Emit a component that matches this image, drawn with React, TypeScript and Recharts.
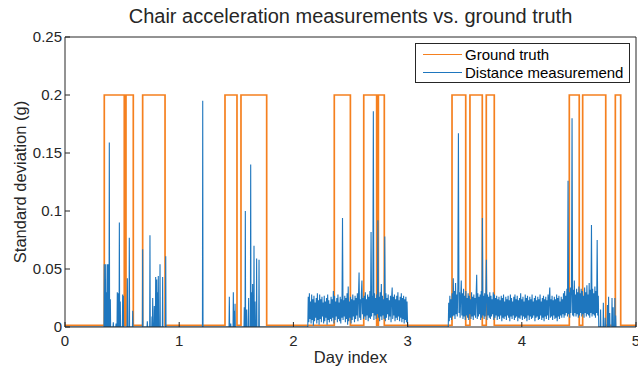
import React from 'react';
import { LineChart, Line, XAxis, YAxis, Legend } from 'recharts';

// axis ticks
const xTicks = [0, 1, 2, 3, 4, 5];
const yTicks = [0, 0.05, 0.1, 0.15, 0.2, 0.25];

// ground truth: sitting intervals (day index), level while sitting / idle
const gtOnStart = [0.344, 0.534, 0.68, 1.401, 1.541, 2.358, 2.616, 2.744, 3.389, 3.546, 3.689, 4.416, 4.533, 4.819];
const gtOnEnd = [0.519, 0.598, 0.876, 1.506, 1.766, 2.499, 2.729, 2.796, 3.509, 3.654, 3.759, 4.503, 4.735, 4.866];
const gtHigh = 0.2;
const gtLow = 0.0015;

// isolated measurement spikes (day index, value in milli-g)
const spikeDays = [
  0.344, 0.35, 0.356, 0.362, 0.371, 0.38, 0.388, 0.397, 0.423, 0.447, 0.458, 0.467, 0.476, 0.484,
  0.505, 0.511, 0.546, 0.563, 0.593, 0.68, 0.721, 0.744, 0.762, 0.768, 0.782, 0.794, 0.803, 0.81,
  0.817, 0.832, 0.855, 0.882, 1.206, 1.439, 1.451, 1.474, 1.482, 1.489, 1.57, 1.579, 1.585, 1.591,
  1.608, 1.626, 1.634, 1.643, 1.655, 1.664, 1.678, 1.699, 4.69, 4.714, 4.73, 4.75, 4.76, 4.77,
  4.79, 4.8, 4.815, 4.822,
];
const spikeMilli = [
  54, 27, 54, 30, 54, 54, 159, 24, 4, 3, 30, 29, 90, 22,
  28, 27, 42, 77, 14, 67, 5, 79, 9, 25, 18, 43, 41, 30,
  44, 54, 43, 61, 195, 26, 3, 30, 14, 20, 17, 100, 5, 15,
  25, 140, 30, 37, 70, 22, 59, 58, 15, 21, 8, 19, 26, 12,
  25, 17, 25, 10,
];

// continuous noisy stretches, sampled every 0.005 day (milli-g)
const noiseStep = 0.005;
const noiseAStart = 2.13;
const noiseA = [
  26, 4, 29, 7, 22, 3, 28, 6, 24, 1,
  27, 5, 21, 8, 25, 3, 29, 6, 23, 2,
  28, 7, 24, 4, 26, 9, 21, 3, 27, 5,
  22, 8, 25, 2, 28, 6, 23, 4, 20, 7,
  26, 5, 24, 8, 31, 3, 27, 6, 22, 9,
  25, 4, 28, 7, 21, 5, 26, 3, 24, 8,
  94, 6, 23, 9, 27, 4, 25, 7, 29, 2,
  35, 5, 22, 8, 26, 3, 24, 6, 28, 9,
  23, 4, 27, 7, 25, 10, 29, 5, 26, 47,
  8, 24, 6, 28, 40, 11, 25, 7, 27, 9,
  30, 6, 24, 10, 28, 5, 26, 8, 31, 7,
  82, 9, 27, 12, 186, 6, 29, 10, 25, 7,
  28, 11, 92, 8, 26, 5, 30, 9, 37, 6,
  27, 10, 24, 7, 78, 5, 29, 8, 25, 11,
  28, 6, 23, 9, 27, 4, 25, 34, 7, 26,
  10, 28, 5, 24, 8, 27, 6, 30, 9, 23,
  5, 26, 8, 29, 4, 25, 7, 27, 3, 24,
  6, 26, 4, 22, 2,
];
const noiseBStart = 3.36;
const noiseB = [
  21, 5, 27, 8, 24, 6, 29, 9, 42, 10,
  31, 7, 38, 11, 28, 9, 35, 167, 12, 30,
  8, 26, 40, 10, 29, 7, 33, 9, 27, 6,
  31, 10, 25, 8, 29, 6, 27, 11, 24, 7,
  30, 9, 26, 6, 28, 10, 25, 8, 27, 45,
  7, 29, 9, 26, 11, 28, 6, 31, 8, 94,
  10, 27, 7, 29, 9, 25, 58, 6, 28, 10,
  26, 8, 30, 7, 27, 9, 24, 11, 30, 6,
  28, 8, 25, 10, 27, 6, 24, 9, 26, 7,
  23, 10, 27, 5, 25, 8, 28, 7, 22, 9,
  26, 6, 24, 10, 27, 8, 23, 5, 28, 9,
  25, 7, 22, 10, 26, 6, 28, 8, 24, 9,
  27, 5, 23, 8, 25, 7, 29, 10, 24, 6,
  26, 9, 22, 7, 28, 8, 25, 5, 27, 10,
  23, 6, 26, 9, 24, 7, 28, 8, 22, 10,
  25, 5, 27, 8, 23, 9, 26, 6, 24, 7,
  28, 10, 22, 6, 25, 8, 27, 5, 24, 9,
  26, 7, 23, 10, 28, 6, 25, 34, 8, 24,
  9, 27, 6, 23, 10, 26, 7, 24, 8, 28,
  5, 25, 9, 27, 7, 22, 10, 26, 8, 24,
  11, 29, 8, 31, 10, 27, 12, 33, 9, 126,
  11, 30, 8, 34, 12, 29, 180, 10, 32, 9,
  40, 12, 28, 9, 33, 11, 30, 8, 35, 10,
  29, 12, 33, 9, 31, 11, 27, 8, 34, 12,
  30, 9, 36, 11, 28, 10, 38, 8, 32, 12,
  88, 9, 33, 11, 29, 10, 35, 8, 31, 12,
  75, 10, 27,
];

type Pt = { x: number; y: number };

const gtData: Pt[] = [{ x: 0, y: gtLow }];
gtOnStart.forEach((s, i) => {
  gtData.push({ x: s, y: gtLow }, { x: s, y: gtHigh }, { x: gtOnEnd[i], y: gtHigh }, { x: gtOnEnd[i], y: gtLow });
});
gtData.push({ x: 5, y: gtLow });

const blueData: Pt[] = [{ x: 0, y: 0 }, { x: 5, y: 0 }];
spikeDays.forEach((d, i) => {
  blueData.push({ x: d - 0.0025, y: 0 }, { x: d, y: spikeMilli[i] / 1000 }, { x: d + 0.0025, y: 0 });
});
[[noiseAStart, noiseA], [noiseBStart, noiseB]].forEach(([start, vals]: any) => {
  blueData.push({ x: start - 0.004, y: 0 });
  vals.forEach((v: number, i: number) => blueData.push({ x: start + i * noiseStep, y: v / 1000 }));
  blueData.push({ x: start + (vals.length - 1) * noiseStep + 0.004, y: 0 });
});
blueData.sort((a, b) => a.x - b.x);

const AXIS = '#262626';
const ORANGE = '#F5801F';
const BLUE = '#1E76BE';
const FONT = '"Liberation Sans", Arial, sans-serif';
const seriesColor: Record<string, string> = { 'Ground truth': ORANGE, 'Distance measuremend': BLUE };

const renderLegend = (props: any) => {
  const { payload } = props;
  return (
    <div style={{ border: `1px solid ${AXIS}`, background: '#fff', width: 215, height: 40, paddingTop: 1, boxSizing: 'border-box' as const, fontFamily: FONT }}>
      {payload.map((entry: any) => (
        <div key={entry.value} style={{ display: 'flex', alignItems: 'center', height: 18 }}>
          <div style={{ width: 39, height: 0, borderTop: `1.5px solid ${seriesColor[entry.value] || entry.color}`, marginLeft: 7, marginRight: 3, flexShrink: 0 }} />
          <span style={{ fontSize: 15, color: '#000', whiteSpace: 'nowrap' }}>{entry.value}</span>
        </div>
      ))}
    </div>
  );
};

export default function App() {
  const tickStyle = { fill: AXIS, fontSize: 15, fontFamily: FONT };
  return (
    <div style={{ position: 'absolute', left: 0, top: 0, width: 638, height: 366, overflow: 'hidden', background: '#fff', fontFamily: FONT }}>
      <div style={{ position: 'absolute', left: 65, width: 571, top: 5, textAlign: 'center', fontSize: 20, lineHeight: '23px', color: AXIS }}>
        Chair acceleration measurements vs. ground truth
      </div>
      <div style={{ position: 'absolute', left: 20 - 150, top: 182 - 10, width: 300, height: 20, lineHeight: '20px', textAlign: 'center', fontSize: 16.5, color: AXIS, transform: 'rotate(-90deg)' }}>
        Standard deviation (g)
      </div>
      <div style={{ position: 'absolute', left: 65, width: 571, top: 348, textAlign: 'center', fontSize: 16.5, lineHeight: '19px', color: AXIS }}>
        Day index
      </div>
      <LineChart width={638} height={366} margin={{ top: 36, right: 1, left: 15, bottom: 9 }}>
        <XAxis dataKey="x" type="number" domain={[0, 5]} ticks={xTicks} interval={0} allowDataOverflow
          height={30} tickSize={-5} tickMargin={13} tick={tickStyle}
          axisLine={{ stroke: AXIS }} tickLine={{ stroke: AXIS }} />
        <XAxis xAxisId="top" orientation="top" dataKey="x" type="number" domain={[0, 5]} ticks={xTicks} interval={0} allowDataOverflow
          height={1} tickSize={-5} tick={false} axisLine={{ stroke: AXIS }} tickLine={{ stroke: AXIS }} />
        <YAxis type="number" domain={[0, 0.25]} ticks={yTicks} interval={0} allowDataOverflow
          width={50} tickSize={-5} tickMargin={8} tick={tickStyle}
          axisLine={{ stroke: AXIS }} tickLine={{ stroke: AXIS }} />
        <YAxis yAxisId="right" orientation="right" type="number" domain={[0, 0.25]} ticks={yTicks} interval={0} allowDataOverflow
          width={1} tickSize={-5} tick={false} axisLine={{ stroke: AXIS }} tickLine={{ stroke: AXIS }} />
        <Line data={gtData} dataKey="y" name="Ground truth" type="linear" stroke={ORANGE} strokeWidth={1.7}
          dot={false} activeDot={false} isAnimationActive={false} />
        <Line data={blueData} dataKey="y" name="Distance measuremend" type="linear" stroke={BLUE} strokeWidth={1.1}
          dot={false} activeDot={false} isAnimationActive={false} />
        <Legend layout="vertical" align="center" verticalAlign="middle" content={renderLegend} itemSorter={null as any}
          wrapperStyle={{ left: 415, top: 43, width: 'auto', height: 'auto' }} />
      </LineChart>
    </div>
  );
}
